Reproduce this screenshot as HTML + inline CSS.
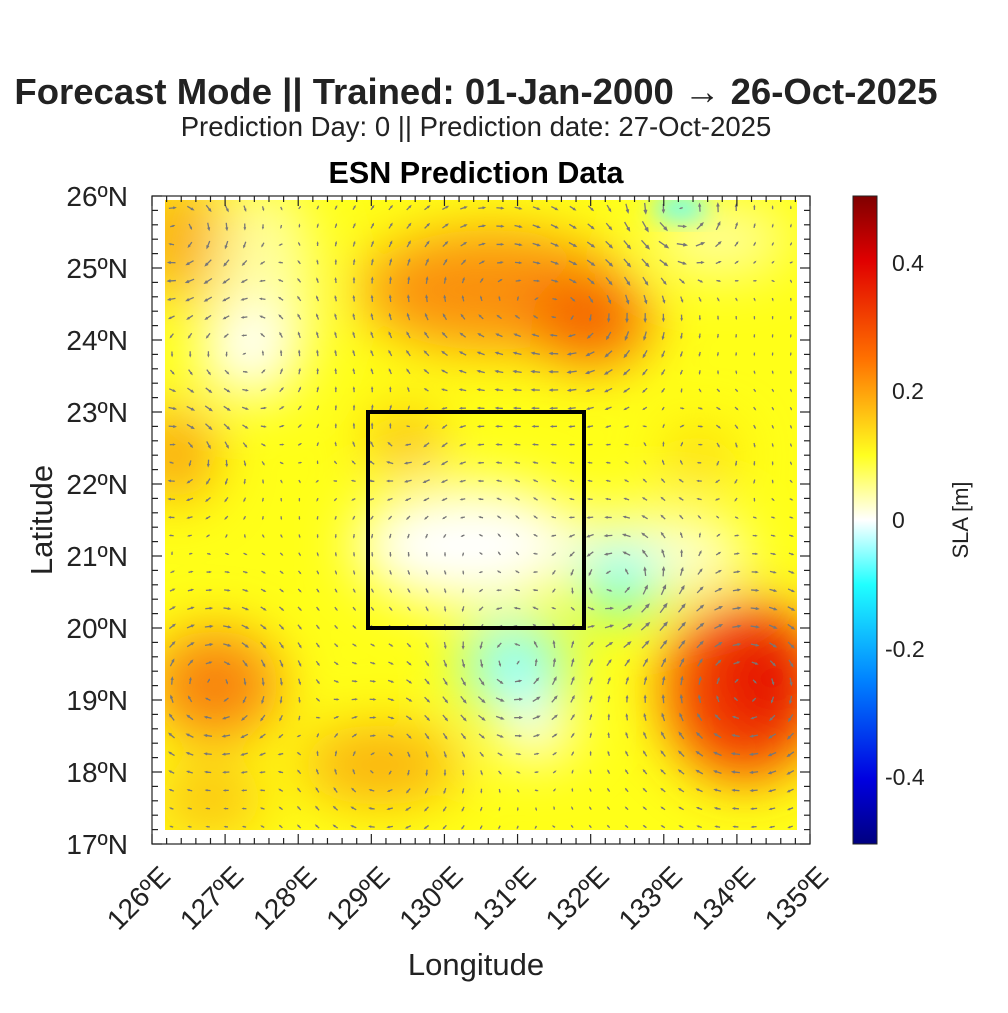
<!DOCTYPE html>
<html><head><meta charset="utf-8"><style>
body{margin:0;background:#fff;}
svg text{font-family:"Liberation Sans",sans-serif;}
</style></head><body>
<svg id="s" width="1008" height="1008" xmlns="http://www.w3.org/2000/svg">
<defs>
<filter id="b" x="-50%" y="-50%" width="200%" height="200%"><feGaussianBlur stdDeviation="28"/></filter>
<filter id="b2" x="-50%" y="-50%" width="200%" height="200%"><feGaussianBlur stdDeviation="12"/></filter>
<clipPath id="c"><rect x="165" y="200" width="632" height="630"/></clipPath>
<linearGradient id="cb" x1="0" y1="0" x2="0" y2="1">
<stop offset="0" stop-color="#800000"/><stop offset="0.1" stop-color="#e00000"/><stop offset="0.25" stop-color="#ff7000"/><stop offset="0.4" stop-color="#ffff20"/><stop offset="0.5" stop-color="#ffffff"/><stop offset="0.6" stop-color="#20ffff"/><stop offset="0.75" stop-color="#0080ff"/><stop offset="0.9" stop-color="#0000e0"/><stop offset="1" stop-color="#000080"/>
</linearGradient>
</defs>
<text x="476" y="104" font-size="36.5" font-weight="bold" text-anchor="middle" fill="#222">Forecast Mode || Trained: 01-Jan-2000 → 26-Oct-2025</text>
<text x="476" y="136" font-size="27.5" text-anchor="middle" fill="#222">Prediction Day: 0 || Prediction date: 27-Oct-2025</text>
<text x="476" y="183" font-size="30.5" font-weight="bold" text-anchor="middle" fill="#000">ESN Prediction Data</text>
<g clip-path="url(#c)">
<rect x="165" y="200" width="632" height="630" fill="#ffff18"/>
<g filter="url(#b)">
<ellipse cx="180" cy="240" rx="50" ry="60" fill="#fab010"/>
<ellipse cx="265" cy="290" rx="50" ry="110" fill="#ffffa0"/>
<ellipse cx="245" cy="350" rx="45" ry="45" fill="#ffffff"/>
<ellipse cx="490" cy="290" rx="130" ry="60" fill="#fa9010"/>
<ellipse cx="590" cy="320" rx="60" ry="45" fill="#f56000"/>
<ellipse cx="175" cy="455" rx="40" ry="45" fill="#f9a010"/>
<ellipse cx="405" cy="440" rx="35" ry="28" fill="#fab010"/>
<ellipse cx="700" cy="455" rx="35" ry="25" fill="#fcd010"/>
<ellipse cx="470" cy="545" rx="115" ry="60" fill="#ffffff"/>
<ellipse cx="650" cy="555" rx="100" ry="45" fill="#ffffd0"/>
<ellipse cx="620" cy="582" rx="38" ry="32" fill="#40ffff"/>
<ellipse cx="515" cy="665" rx="55" ry="45" fill="#90ffff"/>
<ellipse cx="535" cy="730" rx="40" ry="28" fill="#ffffff"/>
<ellipse cx="745" cy="690" rx="80" ry="90" fill="#f34000"/>
<ellipse cx="765" cy="680" rx="45" ry="50" fill="#e40000"/>
<ellipse cx="215" cy="685" rx="65" ry="55" fill="#f88010"/>
<ellipse cx="380" cy="765" rx="80" ry="40" fill="#fab010"/>
<ellipse cx="210" cy="800" rx="55" ry="35" fill="#fbc010"/>
<ellipse cx="720" cy="240" rx="70" ry="35" fill="#ffffa0"/>
</g>
<g filter="url(#b2)"><ellipse cx="680" cy="208" rx="28" ry="12" fill="#60ffff"/></g>
<g id="arr" stroke="#777" stroke-width="1.3" fill="none"></g>
</g>
<rect x="368" y="412" width="216" height="216" fill="none" stroke="#000" stroke-width="4"/>
<g id="ax" stroke="#222" stroke-width="1.2" fill="none"></g>
<g id="lab" font-size="28" fill="#222"></g>
<text x="476" y="975" font-size="31" text-anchor="middle" fill="#222">Longitude</text>
<text transform="translate(52,520) rotate(-90)" font-size="31" text-anchor="middle" fill="#222">Latitude</text>
<rect x="853" y="196" width="24" height="648" fill="url(#cb)" stroke="#222" stroke-width="1"/>
<g font-size="23" fill="#222">
<text x="892" y="271">0.4</text><text x="892" y="399">0.2</text><text x="892" y="528">0</text><text x="885" y="657">-0.2</text><text x="885" y="785">-0.4</text>
</g>
<text transform="translate(968,520) rotate(-90)" font-size="22" text-anchor="middle" fill="#222">SLA [m]</text>
</svg>
<script>
var NS="http://www.w3.org/2000/svg";
function el(t,a,p){var e=document.createElementNS(NS,t);for(var k in a)e.setAttribute(k,a[k]);p.appendChild(e);return e;}
var ax=document.getElementById('ax'),lab=document.getElementById('lab');
el('rect',{x:152,y:196,width:658,height:648},ax);
var x0=152,dx=(810-152)/9,y0=196,dy=72;
for(var i=0;i<=45;i++){var x=x0+i*dx/5,L=(i%5==0)?10:6;
el('line',{x1:x,y1:844,x2:x,y2:844-L},ax);el('line',{x1:x,y1:196,x2:x,y2:196+L},ax);}
for(var i=0;i<=45;i++){var y=y0+i*dy/5,L=(i%5==0)?10:6;
el('line',{x1:152,y1:y,x2:152+L,y2:y},ax);el('line',{x1:810,y1:y,x2:810-L,y2:y},ax);}
for(var i=0;i<=9;i++){var x=x0+i*dx;var t=el('text',{transform:'translate('+(x+20)+',878) rotate(-45)','text-anchor':'end'},lab);t.textContent=(126+i)+'ºE';}
for(var i=0;i<=9;i++){var y=y0+i*dy;var t=el('text',{x:128,y:y+10,'text-anchor':'end'},lab);t.textContent=(26-i)+'ºN';}
var B=[[175,235,60,.2],[245,355,70,-.12],[490,290,110,.3],[590,320,70,.2],[175,455,55,.15],[470,545,100,-.1],[620,582,55,-.2],[515,665,60,-.2],[745,690,95,.35],[215,685,75,.25],[380,765,75,.15],[680,210,45,-.2],[405,440,45,.08],[700,455,45,.06]];
function h(x,y){var s=0;for(var b of B){var r2=((x-b[0])**2+(y-b[1])**2)/(b[2]*b[2]);s+=b[3]*Math.exp(-r2);}return s;}
var A=document.getElementById('arr');
for(var y=208;y<830;y+=18.2)for(var x=172;x<797;x+=18.2){
var e=1,u=-(h(x,y+e)-h(x,y-e))/(2*e),v=(h(x+e,y)-h(x-e,y))/(2*e);
u=-u;v=-v;
var m=Math.sqrt(u*u+v*v)*1800+2;if(m>14)m=14;
var a=Math.atan2(v,u),ux=Math.cos(a),uy=Math.sin(a);
var x1=x-ux*m/2,y1=y-uy*m/2,x2=x+ux*m/2,y2=y+uy*m/2;
var hl=Math.min(4,m*0.35);
var d='M'+x1+' '+y1+'L'+x2+' '+y2+'M'+(x2-hl*Math.cos(a-0.4))+' '+(y2-hl*Math.sin(a-0.4))+'L'+x2+' '+y2+'L'+(x2-hl*Math.cos(a+0.4))+' '+(y2-hl*Math.sin(a+0.4));
el('path',{d:d},A);}
</script>
</body></html>
